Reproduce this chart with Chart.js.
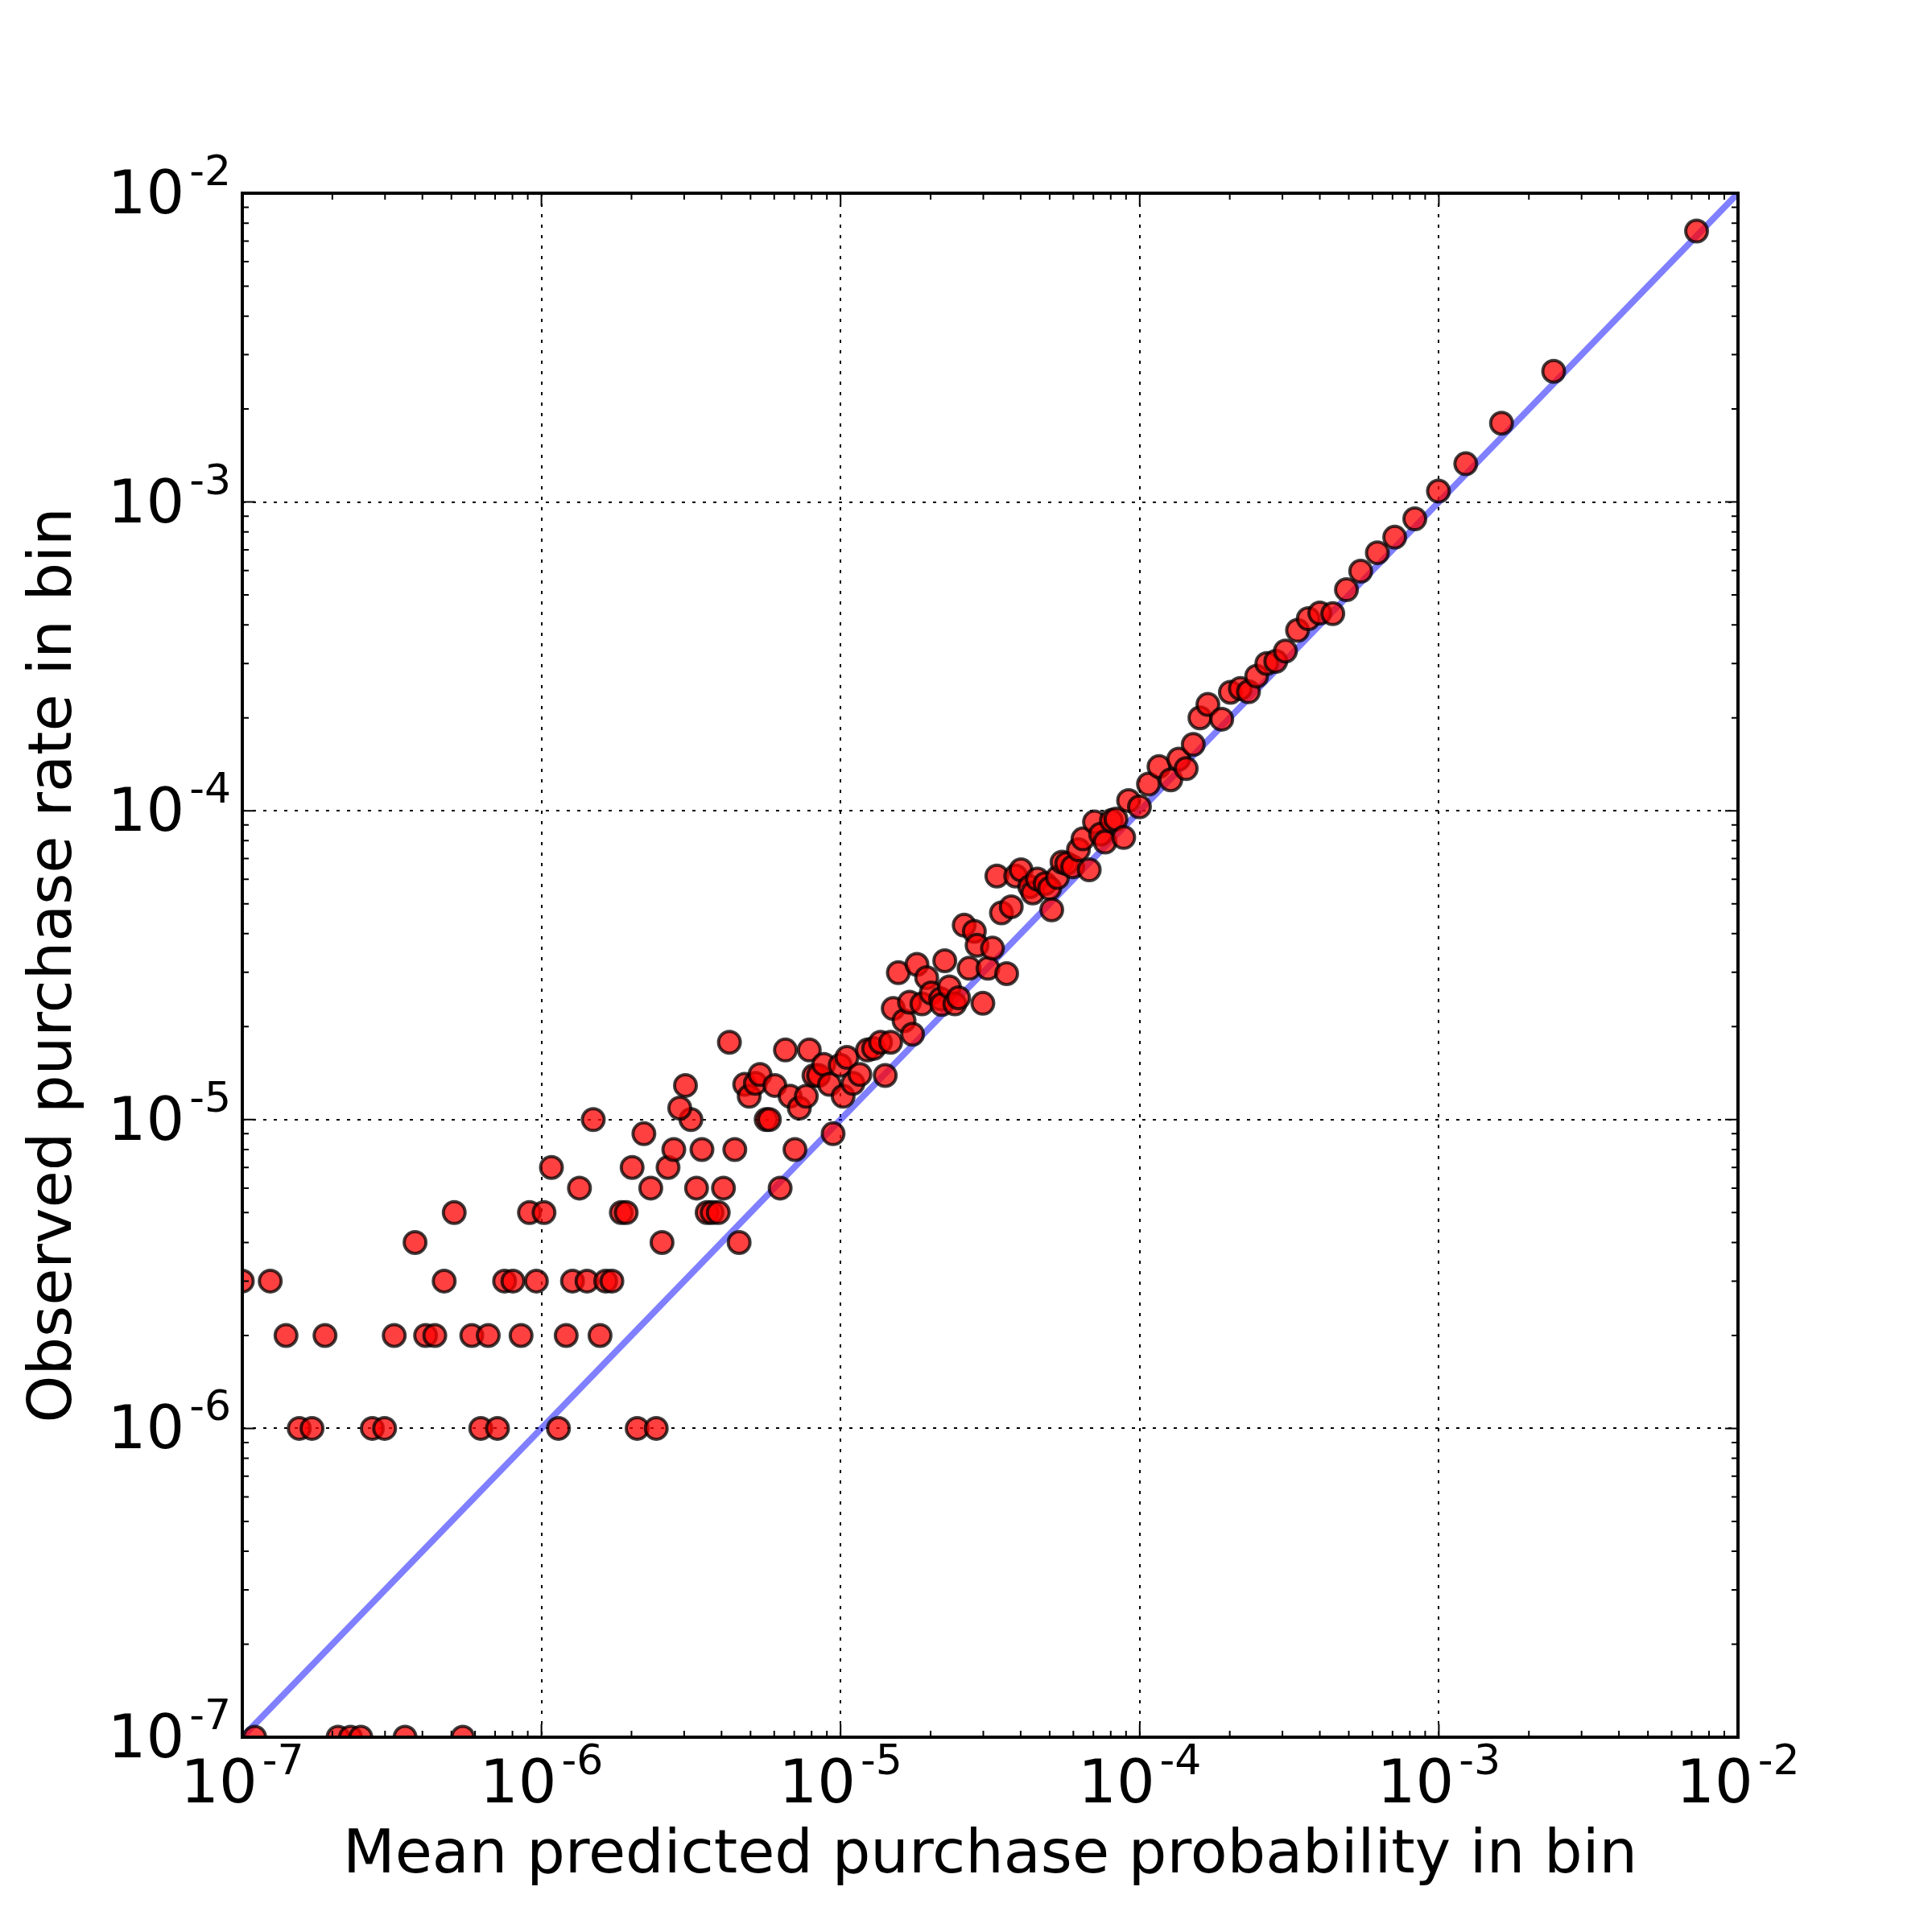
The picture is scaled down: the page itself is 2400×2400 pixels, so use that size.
<!DOCTYPE html>
<html><head><meta charset="utf-8">
<script src="https://cdn.jsdelivr.net/npm/chart.js@4.4.1/dist/chart.umd.min.js"></script>
<style>html,body{margin:0;padding:0;background:#fff}</style>
</head><body>
<canvas id="c" width="2400" height="2400" style="width:2400px;height:2400px;display:block"></canvas>
<script>
const xTitle = 'Mean predicted purchase probability in bin';
const yTitle = 'Observed purchase rate in bin';
const majorTicks = [1e-7, 1e-6, 1e-5, 1e-4, 1e-3, 1e-2];
const tickBase = '10';
const tickExponents = ['-7', '-6', '-5', '-4', '-3', '-2'];
const minorMultipliers = [2, 3, 4, 5, 6, 7, 8, 9];

// low-count bins (observed rate in whole multiples of 1e-6 and the 1e-7 floor)
const predictedLow = [
  1.10e-7, 2.09e-7, 2.30e-7, 2.49e-7, 3.50e-7, 5.46e-7,
  1.55e-7, 1.71e-7, 2.72e-7, 2.99e-7, 6.27e-7, 7.13e-7, 1.14e-6, 2.09e-6, 2.42e-6,
  1.40e-7, 1.89e-7, 3.22e-7, 4.10e-7, 4.40e-7, 5.85e-7, 6.64e-7, 8.55e-7, 1.21e-6, 1.57e-6,
  1.00e-7, 1.24e-7, 4.73e-7, 7.53e-7, 8.03e-7, 9.62e-7, 1.27e-6, 1.42e-6, 1.64e-6, 1.72e-6,
  3.78e-7, 2.53e-6,
  5.11e-7, 9.12e-7, 1.02e-6, 1.85e-6, 1.92e-6, 3.58e-6, 3.72e-6, 3.90e-6,
  1.34e-6, 2.32e-6, 3.30e-6, 4.06e-6,
  1.08e-6, 2.01e-6, 2.65e-6,
  2.77e-6, 3.44e-6,
  2.20e-6,
  1.49e-6, 3.16e-6,
  2.90e-6, 3.03e-6
];
const observedLow = [
  1e-7, 1e-7, 1e-7, 1e-7, 1e-7, 1e-7,
  1e-6, 1e-6, 1e-6, 1e-6, 1e-6, 1e-6, 1e-6, 1e-6, 1e-6,
  2e-6, 2e-6, 2e-6, 2e-6, 2e-6, 2e-6, 2e-6, 2e-6, 2e-6, 2e-6,
  3e-6, 3e-6, 3e-6, 3e-6, 3e-6, 3e-6, 3e-6, 3e-6, 3e-6, 3e-6,
  4e-6, 4e-6,
  5e-6, 5e-6, 5e-6, 5e-6, 5e-6, 5e-6, 5e-6, 5e-6,
  6e-6, 6e-6, 6e-6, 6e-6,
  7e-6, 7e-6, 7e-6,
  8e-6, 8e-6,
  9e-6,
  1e-5, 1e-5,
  1.09e-5, 1.29e-5
];

// middle bins
const predictedMid = [
  4.25e-6, 4.43e-6, 4.58e-6, 6.28e-6, 7.04e-6, 9.44e-6, 5.64e-6, 5.78e-6,
  4.78e-6, 4.95e-6, 5.19e-6, 5.38e-6, 6.03e-6, 6.54e-6, 6.78e-6, 7.28e-6, 7.68e-6, 7.86e-6,
  8.15e-6, 8.44e-6, 8.79e-6, 9.18e-6, 9.97e-6, 1.02e-5, 1.05e-5, 1.10e-5, 1.16e-5, 1.23e-5,
  1.29e-5, 1.36e-5, 1.41e-5, 1.47e-5, 1.50e-5, 1.56e-5, 1.63e-5, 1.70e-5, 1.74e-5, 1.80e-5,
  1.87e-5, 1.94e-5, 2.01e-5, 2.16e-5, 2.18e-5, 2.23e-5, 2.31e-5, 2.41e-5, 2.48e-5, 2.59e-5,
  2.69e-5, 2.80e-5, 2.86e-5, 2.99e-5, 3.11e-5, 3.22e-5, 3.33e-5, 3.45e-5, 3.59e-5, 3.72e-5,
  3.85e-5, 4.01e-5, 4.29e-5, 4.39e-5, 4.55e-5, 4.83e-5, 5.00e-5, 5.08e-5, 5.31e-5, 5.50e-5,
  5.70e-5, 5.97e-5, 6.24e-5, 6.46e-5, 6.78e-5, 7.06e-5, 7.40e-5, 7.66e-5, 8.04e-5, 8.33e-5,
  8.84e-5
];
const observedMid = [
  1.78e-5, 8.0e-6, 4.0e-6, 6.0e-6, 8.0e-6, 9.0e-6, 1.0e-5, 1.0e-5,
  1.30e-5, 1.19e-5, 1.31e-5, 1.40e-5, 1.29e-5, 1.68e-5, 1.19e-5, 1.09e-5, 1.19e-5, 1.68e-5,
  1.39e-5, 1.39e-5, 1.51e-5, 1.30e-5, 1.50e-5, 1.19e-5, 1.59e-5, 1.31e-5, 1.40e-5, 1.68e-5,
  1.70e-5, 1.78e-5, 1.39e-5, 1.78e-5, 2.29e-5, 2.99e-5, 2.09e-5, 2.40e-5, 1.89e-5, 3.18e-5,
  2.37e-5, 2.88e-5, 2.57e-5, 2.46e-5, 2.36e-5, 3.27e-5, 2.69e-5, 2.37e-5, 2.48e-5, 4.26e-5,
  3.09e-5, 4.07e-5, 3.67e-5, 2.38e-5, 3.09e-5, 3.59e-5, 6.15e-5, 4.67e-5, 2.97e-5, 4.89e-5,
  6.15e-5, 6.44e-5, 5.68e-5, 5.42e-5, 6.01e-5, 5.81e-5, 5.61e-5, 4.78e-5, 6.08e-5, 6.82e-5,
  6.75e-5, 6.59e-5, 7.48e-5, 8.11e-5, 6.44e-5, 9.2e-5, 8.4e-5, 7.92e-5, 9.3e-5, 9.4e-5,
  8.2e-5
];

// high bins
const predictedHigh = [
  9.18e-5, 9.98e-5, 1.07e-4, 1.16e-4, 1.27e-4, 1.35e-4, 1.43e-4, 1.51e-4, 1.59e-4, 1.69e-4,
  1.88e-4, 2.01e-4, 2.17e-4, 2.31e-4, 2.46e-4, 2.66e-4, 2.85e-4, 3.07e-4, 3.37e-4, 3.66e-4,
  4.00e-4, 4.42e-4, 4.91e-4, 5.48e-4, 6.23e-4, 7.12e-4, 8.31e-4, 9.97e-4, 1.23e-3, 1.62e-3,
  2.42e-3, 7.27e-3
];
const observedHigh = [
  1.08e-4, 1.03e-4, 1.22e-4, 1.39e-4, 1.26e-4, 1.47e-4, 1.37e-4, 1.64e-4, 2.00e-4, 2.21e-4,
  1.98e-4, 2.42e-4, 2.49e-4, 2.43e-4, 2.73e-4, 3.00e-4, 3.05e-4, 3.29e-4, 3.84e-4, 4.19e-4,
  4.37e-4, 4.35e-4, 5.20e-4, 5.97e-4, 6.85e-4, 7.69e-4, 8.82e-4, 1.085e-3, 1.33e-3, 1.80e-3,
  2.65e-3, 7.54e-3
];

const predicted = predictedLow.concat(predictedMid, predictedHigh);
const observed = observedLow.concat(observedMid, observedHigh);
const points = predicted.map((v, i) => ({x: v, y: observed[i]}));
const diagonal = [
  {x: majorTicks[0], y: majorTicks[0]},
  {x: majorTicks[majorTicks.length - 1], y: majorTicks[majorTicks.length - 1]}
];

const FONT = '"DejaVu Sans", "Liberation Sans", sans-serif';

const mplAxes = {
  id: 'mplAxes',
  beforeDatasetsDraw(chart) {
    const {ctx, chartArea: a, scales: {x, y}} = chart;
    ctx.save();
    ctx.strokeStyle = '#000';
    ctx.lineWidth = 2;
    ctx.setLineDash([4, 9]);
    majorTicks.forEach(v => {
      const px = Math.round(x.getPixelForValue(v));
      const py = Math.round(y.getPixelForValue(v));
      ctx.beginPath(); ctx.moveTo(px, a.top); ctx.lineTo(px, a.bottom); ctx.stroke();
      ctx.beginPath(); ctx.moveTo(a.left, py); ctx.lineTo(a.right, py); ctx.stroke();
    });
    ctx.restore();
  },
  afterDatasetsDraw(chart) {
    const {ctx, chartArea: a, scales: {x, y}} = chart;
    ctx.save();
    ctx.strokeStyle = '#000';
    ctx.lineWidth = 2;
    ctx.setLineDash([]);
    const tick = (v, len) => {
      const px = x.getPixelForValue(v), py = y.getPixelForValue(v);
      ctx.beginPath();
      ctx.moveTo(px, a.bottom); ctx.lineTo(px, a.bottom - len);
      ctx.moveTo(px, a.top); ctx.lineTo(px, a.top + len);
      ctx.moveTo(a.left, py); ctx.lineTo(a.left + len, py);
      ctx.moveTo(a.right, py); ctx.lineTo(a.right - len, py);
      ctx.stroke();
    };
    majorTicks.forEach((m, i) => {
      tick(m, 16);
      if (i < majorTicks.length - 1) minorMultipliers.forEach(k => tick(m * k, 8));
    });
    // frame
    ctx.lineWidth = 4;
    ctx.strokeRect(a.left, a.top, a.right - a.left, a.bottom - a.top);
    // tick labels
    ctx.fillStyle = '#000';
    ctx.textBaseline = 'alphabetic';
    ctx.textAlign = 'left';
    const bigFont = '75px ' + FONT, smallFont = '52px ' + FONT;
    const gap = 6;
    majorTicks.forEach((m, i) => {
      ctx.font = bigFont;
      const wb = ctx.measureText(tickBase).width;
      ctx.font = smallFont;
      const we = ctx.measureText(tickExponents[i]).width;
      const total = wb + gap + we;
      // y axis
      const py = y.getPixelForValue(m);
      const right = a.left - 14;
      ctx.font = bigFont; ctx.fillText(tickBase, right - total, py + 25);
      ctx.font = smallFont; ctx.fillText(tickExponents[i], right - we, py - 10);
      // x axis
      const px = x.getPixelForValue(m);
      const start = px - total / 2;
      ctx.font = bigFont; ctx.fillText(tickBase, start, a.bottom + 81);
      ctx.font = smallFont; ctx.fillText(tickExponents[i], start + wb + gap, a.bottom + 46);
    });
    ctx.restore();
  }
};

new Chart(document.getElementById('c'), {
  type: 'scatter',
  data: {
    datasets: [
      {
        type: 'line', label: 'perfect calibration', data: diagonal,
        borderColor: 'rgba(0,0,255,0.5)', borderWidth: 8, pointRadius: 0,
        fill: false, order: 2, clip: 0, borderCapStyle: 'butt'
      },
      {
        type: 'scatter', label: 'bins', data: points,
        backgroundColor: 'rgba(255,0,0,0.75)', borderColor: 'rgba(0,0,0,0.75)',
        borderWidth: 4, pointRadius: 13.5, pointHoverRadius: 13.5, order: 1, clip: 0
      }
    ]
  },
  options: {
    responsive: false, animation: false, devicePixelRatio: 1,
    layout: {padding: {left: 0, right: 241, top: 240, bottom: 48}},
    plugins: {legend: {display: false}, tooltip: {enabled: false}},
    scales: {
      x: {
        type: 'logarithmic', position: 'bottom', min: majorTicks[0], max: majorTicks[5],
        ticks: {display: false}, grid: {display: false, drawTicks: false}, border: {display: false},
        title: {display: true, text: xTitle, color: '#000', font: {family: FONT, size: 75}, padding: {top: 104, bottom: 0}}
      },
      y: {
        type: 'logarithmic', position: 'left', min: majorTicks[0], max: majorTicks[5],
        ticks: {display: false}, grid: {display: false, drawTicks: false}, border: {display: false},
        title: {display: true, text: yTitle, color: '#000', font: {family: FONT, size: 75}, padding: {top: 24, bottom: 187}}
      }
    }
  },
  plugins: [mplAxes]
});
</script>
</body></html>
